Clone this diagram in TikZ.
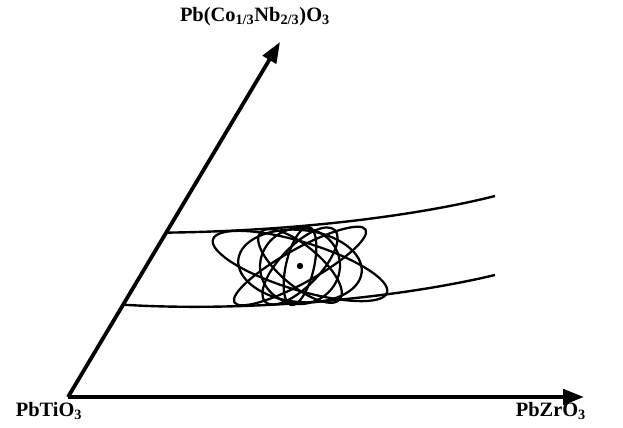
\documentclass[tikz,border=0pt]{standalone}
\usepackage{fontspec}
\setmainfont{Liberation Serif}
\usepackage{tikz}
\usetikzlibrary{arrows.meta,calc}

\begin{document}
\begin{tikzpicture}[x=0.025cm,y=-0.025cm,
    axis/.style={line width=2.7pt, -{Triangle[length=0.52cm,width=0.38cm]}},
    band/.style={line width=1.7pt},
    orbit/.style={line width=1.6pt},
    compound/.style={font=\fontsize{14.5}{16}\selectfont\bfseries, inner sep=0pt}]
    \useasboundingbox (0,0) rectangle (623,427);
    % corners of the triangle
    \coordinate (PT) at (68,397);
    \coordinate (PZ) at (584,397);
    \coordinate (PCN) at (280,42);
    \node[compound] (ptlab) at (49,411) {PbTiO\textsubscript{3}};
    \node[compound] (pzlab) at (551,411) {PbZrO\textsubscript{3}};
    \node[compound] (pcnlab) at (255,17) {Pb(Co\textsubscript{1/3}Nb\textsubscript{2/3})O\textsubscript{3}};
    \draw[axis] (PT) -- (PZ);
    \draw[axis] (PT) -- (PCN);
    % composition band
    \coordinate (up0) at ($(PT)!0.463!(PCN)$);
    \coordinate (lo0) at ($(PT)!0.26!(PCN)$);
    \coordinate (up1) at (495,196);
    \coordinate (lo1) at (495,275);
    \draw[band] (up0) .. controls (300,231) and (420,215) .. (up1);
    \draw[band] (lo0) .. controls (240,312) and (390,300) .. (lo1);
    % ellipses round the chosen point
    \coordinate (c) at (300,266);
    \foreach \ang/\rx/\ry in {-17/91/24, 29/75/17, 77/40/14, -6/62/36, 8/40/38, -40/52/20, 46/50/20} {
      \draw[orbit, rotate around={\ang:(c)}] (c) ellipse [x radius=\rx, y radius=\ry];
    }
    \fill (c) circle [radius=3.2];
  \end{tikzpicture}
\end{document}
